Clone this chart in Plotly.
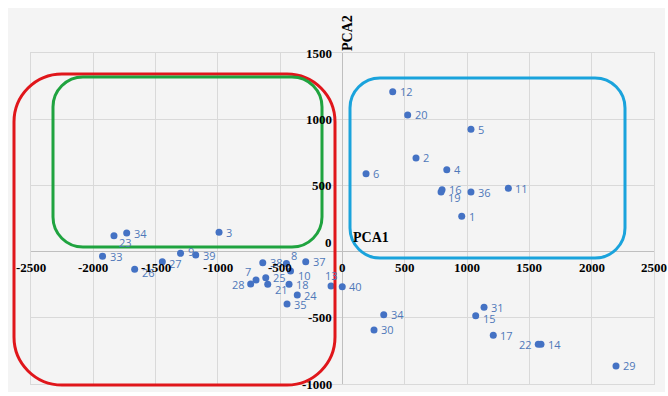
import plotly.graph_objects as go

# ---- data ----
labels = ["1", "2", "3", "4", "5", "6", "7", "8", "9", "10",
          "11", "12", "13", "14", "15", "16", "17", "18", "19", "20",
          "21", "22", "23", "24", "25", "26", "27", "28", "29", "30",
          "31", "33", "34", "34", "35", "36", "37", "38", "39", "40"]
pca1 = [957, 590, -991, 837, 1031, 189, -694, -450, -1300, -417,
        1331, 403, -92, 1593, 1069, 799, 1210, -429, 791, 523,
        -600, 1571, -1834, -363, -616, -1668, -1446, -737, 2195, 253,
        1136, -1926, -1732, 331, -445, 1031, -295, -640, -1178, -2]
pca2 = [267, 707, 146, 619, 925, 588, -214, -90, -13, -147,
        478, 1208, -260, -700, -484, 468, -632, -247, 450, 1032,
        -247, -700, 120, -328, -197, -134, -76, -245, -864, -592,
        -421, -35, 140, -477, -396, 450, -76, -84, -26, -265]
x_ticks = [-2500, -2000, -1500, -1000, -500, 0, 500, 1000, 1500, 2000, 2500]
y_ticks = [-1000, -500, 0, 500, 1000, 1500]

# label placement per point index: (xanchor, xshift, yshift)
label_style = {6: ("right", -3, 8), 7: ("left", 3, 8), 8: ("left", 5, 2), 9: ("left", 5, -4),
               12: ("center", 0, 11), 14: ("left", 5, -3), 18: ("left", 5, -5),
               20: ("left", 5, -5), 21: ("right", -4, 0), 22: ("left", 3, -7),
               25: ("left", 5, -3), 26: ("left", 5, -2), 27: ("right", -4, 0)}

W, H = 668, 396
ML, MR, MT, MB = 31, 14, 53, 12
PW, PH = W - ML - MR, H - MT - MB


def px(x):
    return (x - ML) / PW


def py(y):
    return (H - MB - y) / PH


def rounded_rect(x0, y0, x1, y1, r):
    k = 0.5523 * r

    def P(x, y):
        return f"{px(x):.5f},{py(y):.5f}"
    pts = [f"M {P(x0 + r, y0)}", f"L {P(x1 - r, y0)}",
           f"C {P(x1 - r + k, y0)} {P(x1, y0 + r - k)} {P(x1, y0 + r)}",
           f"L {P(x1, y1 - r)}",
           f"C {P(x1, y1 - r + k)} {P(x1 - r + k, y1)} {P(x1 - r, y1)}",
           f"L {P(x0 + r, y1)}",
           f"C {P(x0 + r - k, y1)} {P(x0, y1 - r + k)} {P(x0, y1 - r)}",
           f"L {P(x0, y0 + r)}",
           f"C {P(x0, y0 + r - k)} {P(x0 + r - k, y0)} {P(x0 + r, y0)}"]
    return " ".join(pts) + " Z"


fig = go.Figure()
fig.add_trace(go.Scatter(
    x=pca1, y=pca2, mode="markers",
    marker=dict(size=7, color="#4472C4"),
    cliponaxis=False, showlegend=False, hoverinfo="skip"))

serif = "Liberation Serif"
ann = []
for i, (lab, xv, yv) in enumerate(zip(labels, pca1, pca2)):
    xa, xs, ys = label_style.get(i, ("left", 5, 0))
    ann.append(dict(x=xv, y=yv, xref="x", yref="y", text=lab, showarrow=False,
                    xanchor=xa, xshift=xs, yshift=ys,
                    font=dict(family="Open Sans", size=11, color="#4F78B9")))
for v in x_ticks:
    ann.append(dict(x=v, y=0, xref="x", yref="y", text=f"<b>{v}</b>", showarrow=False,
                    yshift=-16, font=dict(family=serif, size=13, color="#000")))
for v in y_ticks:
    ann.append(dict(x=0, y=v, xref="x", yref="y", text=f"<b>{v}</b>", showarrow=False,
                    xanchor="right", xshift=-9, yshift=9 if v == 0 else 0,
                    font=dict(family=serif, size=13, color="#000")))
ann.append(dict(x=px(371), y=py(237), xref="paper", yref="paper", text="<b>PCA1</b>",
                showarrow=False, xanchor="center", yanchor="middle",
                font=dict(family=serif, size=14, color="#000")))
ann.append(dict(x=px(347), y=py(33), xref="paper", yref="paper", text="<b>PCA2</b>",
                showarrow=False, textangle=-90, xanchor="center", yanchor="middle",
                font=dict(family=serif, size=14, color="#000")))

shapes = [
    dict(type="rect", xref="paper", yref="paper", x0=px(8), x1=px(665), y0=py(392), y1=py(8),
         fillcolor="#F4F4F4", line=dict(width=0), layer="below"),
    dict(type="path", xref="paper", yref="paper", path=rounded_rect(14, 74, 335, 385, 48),
         line=dict(color="#E0161B", width=3)),
    dict(type="path", xref="paper", yref="paper", path=rounded_rect(53, 77, 322, 247, 30),
         line=dict(color="#1FA33F", width=3)),
    dict(type="path", xref="paper", yref="paper", path=rounded_rect(350, 78, 625, 258, 30),
         line=dict(color="#1AA3DC", width=3)),
]

fig.update_layout(
    width=W, height=H, margin=dict(l=ML, r=MR, t=MT, b=MB),
    paper_bgcolor="#FFFFFF", plot_bgcolor="rgba(0,0,0,0)",
    xaxis=dict(range=[-2500, 2500], tickvals=x_ticks, showticklabels=False,
               showgrid=True, gridcolor="#D9D9D9", gridwidth=1,
               zeroline=True, zerolinecolor="#BFBFBF", zerolinewidth=1,
               showline=True, mirror=True, linecolor="#D9D9D9", fixedrange=True),
    yaxis=dict(range=[-1000, 1500], tickvals=y_ticks, showticklabels=False,
               showgrid=True, gridcolor="#D9D9D9", gridwidth=1,
               zeroline=True, zerolinecolor="#BFBFBF", zerolinewidth=1,
               showline=True, mirror=True, linecolor="#D9D9D9", fixedrange=True),
    annotations=ann, shapes=shapes, showlegend=False,
)

fig.write_html("out.html", config={"displayModeBar": False},
               post_script="document.body.style.margin='0px';")
